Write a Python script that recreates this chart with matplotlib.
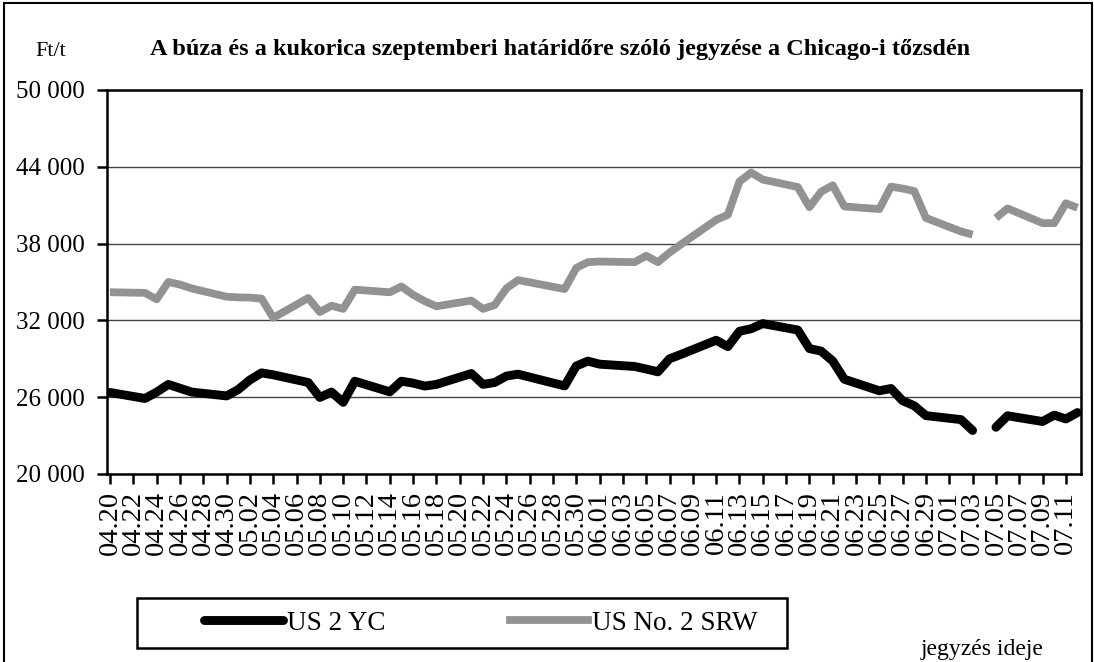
import matplotlib
matplotlib.use("Agg")
import matplotlib.pyplot as plt
from matplotlib.lines import Line2D
from matplotlib.patches import Rectangle
import numpy as np
import pandas as pd

plt.rcParams["font.family"] = ["Liberation Serif", "DejaVu Serif"]

# trading days (2007), 07.04 left empty -> gap in the lines
dates = ["04.20", "04.23", "04.24", "04.25", "04.26", "04.27", "04.30",
         "05.01", "05.02", "05.03", "05.04", "05.07", "05.08", "05.09", "05.10", "05.11",
         "05.14", "05.15", "05.16", "05.17", "05.18", "05.21", "05.22", "05.23", "05.24",
         "05.25", "05.29", "05.30", "05.31", "06.01", "06.04", "06.05", "06.06", "06.07",
         "06.08", "06.11", "06.12", "06.13", "06.14", "06.15", "06.18", "06.19", "06.20",
         "06.21", "06.22", "06.25", "06.26", "06.27", "06.28", "06.29", "07.02", "07.03",
         "07.04", "07.05", "07.06", "07.09", "07.10", "07.11", "07.12"]
corn = [26370, 25900, 26400, 27000, 26700, 26400, 26100,
        26600, 27350, 27900, 27750, 27150, 25980, 26400, 25600, 27250,
        26420, 27250, 27100, 26870, 27000, 27850, 27000, 27150, 27650,
        27800, 26880, 28440, 28820, 28580, 28400, 28200, 27980, 29000,
        29350, 30450, 29950, 31150, 31350, 31750, 31250, 29800, 29600,
        28830, 27400, 26500, 26680, 25720, 25330, 24560, 24250, 23400,
        np.nan, 23650, 24550, 24100, 24600, 24300, 24800]
wheat = [34200, 34150, 33650, 35000, 34800, 34500, 33850,
         33800, 33780, 33700, 32200, 33750, 32650, 33150, 32900, 34400,
         34200, 34650, 34000, 33500, 33100, 33550, 32900, 33200, 34500,
         35150, 34450, 36100, 36550, 36600, 36550, 37050, 36550, 37300,
         37950, 39850, 40250, 42850, 43550, 43000, 42420, 40850, 42050,
         42550, 40900, 40700, 42450, 42300, 42100, 40000, 38950, 38700,
         np.nan, 40000, 40750, 39600, 39600, 41150, 40800]
series_names = ["US 2 YC", "US No. 2 SRW"]
y_ticks = [20000, 26000, 32000, 38000, 44000, 50000]

start = pd.Timestamp("2007-04-20")
stamps = pd.to_datetime(["2007." + d for d in dates], format="%Y.%m.%d")
days = np.array((stamps - start).days)
tick_dates = pd.date_range(start, "2007-07-11", freq="2D")
tick_pos = [(t - start).days for t in tick_dates]
tick_lbl = [t.strftime("%m.%d") for t in tick_dates]

W, H = 1094, 662
fig = plt.figure(figsize=(W / 100, H / 100), dpi=100)
ax = fig.add_axes([107 / W, 1 - 474 / H, 974 / W, 384 / H])

black = "#000000"
grey = "#929292"
ax.plot(days, corn, color=black, lw=6.4, solid_capstyle="round", zorder=4)
ax.plot(days, wheat, color=grey, lw=5.6, solid_capstyle="butt", zorder=3)

ax.set_xlim(-0.26, 83.3)
ax.set_ylim(20000, 50000)
ax.set_yticks(y_ticks)
ax.set_yticklabels([f"{v:,}".replace(",", " ") for v in y_ticks], fontsize=18)
ax.set_xticks(tick_pos)
ax.set_xticklabels(tick_lbl, rotation=90, fontsize=20.5)
ax.tick_params(axis="both", direction="out", length=7, width=1.8, color=black)
ax.tick_params(axis="y", pad=9)
ax.tick_params(axis="x", pad=5)
ax.grid(axis="y", color="#444444", lw=1.0)
ax.set_axisbelow(True)
for s in ax.spines.values():
    s.set_color(black)
    s.set_linewidth(1.8)

fig.text(560 / W, 1 - 50 / H,
         "A búza és a kukorica szeptemberi határidőre szóló jegyzése a Chicago-i tőzsdén",
         ha="center", va="center", fontsize=17.5, fontweight="bold")
fig.text(51 / W, 1 - 52 / H, "Ft/t", ha="center", va="center", fontsize=16)
fig.text(982 / W, 1 - 650 / H, "jegyzés ideje", ha="center", va="center", fontsize=17)

# legend box
fig.patches.append(Rectangle((137 / W, 1 - 648 / H), 650 / W, 50 / H,
                             transform=fig.transFigure, fill=False,
                             ec=black, lw=1.8))
handles = [Line2D([], [], color=black, lw=6.4, solid_capstyle="round"),
           Line2D([], [], color=grey, lw=5.6)]
fig.legend(handles, series_names, loc="center left",
           bbox_to_anchor=(204 / W, 1 - 623 / H), frameon=False, ncol=2,
           fontsize=19.5, handlelength=2.9, handletextpad=0.15, columnspacing=4.6,
           borderaxespad=0, borderpad=0)

# outer frame
fig.patches.append(Rectangle((4 / W, -0.01), 1088 / W, 1 - 3 / H + 0.01,
                             transform=fig.transFigure, fill=False,
                             ec=black, lw=1.5))

fig.savefig("out.png", dpi=100)
